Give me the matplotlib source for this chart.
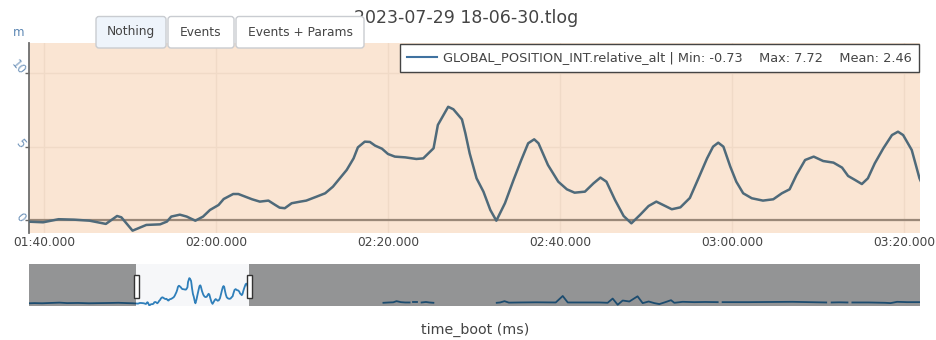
import matplotlib
matplotlib.use("Agg")
import matplotlib.pyplot as plt
import matplotlib.transforms as mtransforms
from matplotlib.patches import FancyBboxPatch, Rectangle

# ---------------- data ----------------
title = "2023-07-29 18-06-30.tlog"
series_name = "GLOBAL_POSITION_INT.relative_alt"
stat_min = "-0.73"
stat_max = "7.72"
stat_mean = "2.46"
y_unit = "m"
x_label = "time_boot (ms)"
buttons = ["Nothing", "Events", "Events + Params"]

# time in seconds since boot, altitude in m (first part of the log, incl. visible window)
time_s = [0.2, 5, 12, 20, 28, 35, 45, 55, 65, 75, 82, 90, 95,
          98.3, 99.9, 101.7, 103.5, 105.3, 107.2, 108.5, 109.0, 110.3, 111.9,
          113.5, 114.3, 114.8, 115.8, 116.6, 117.6, 118.5, 119.3, 120.3, 120.9,
          122.0, 122.6, 123.4, 124.2, 125.1, 126.1, 126.9, 127.4, 128.0, 128.8,
          129.8, 130.5, 131.7, 132.7, 133.6, 134.4, 135.2, 136.0, 136.5, 137.3,
          137.9, 138.5, 139.3, 140.0, 140.8, 142.0, 143.3, 144.1, 145.3, 145.8,
          147.0, 147.6, 148.6, 149.0, 149.5, 150.3, 151.1, 151.9, 152.6, 153.6,
          154.6, 155.5, 156.3, 157.0, 157.5, 158.6, 159.8, 160.8, 161.7, 162.9,
          163.9, 164.7, 165.4, 166.4, 167.4, 168.3, 169.3, 170.3, 171.2, 172.0,
          173.0, 174.0, 175.1, 176.1, 177.1, 177.8, 178.4, 179.0, 179.8, 180.5,
          181.3, 182.3, 183.6, 184.8, 185.8, 186.7, 187.5, 188.5, 189.5, 190.6,
          191.8, 192.8, 193.5, 194.3, 195.1, 195.8, 196.6, 197.6, 198.6, 199.3,
          199.9, 200.9, 201.8, 202.3]
alt_m = [-0.05, 0.0, -0.05, 0.05, 0.15, 0.0, 0.05, -0.05, 0.0, 0.05, 0.1, 0.0, -0.05,
         -0.12, -0.16, 0.05, 0.02, -0.05, -0.27, 0.27, 0.18, -0.73, -0.34,
         -0.30, -0.11, 0.23, 0.36, 0.23, -0.05, 0.23, 0.68, 1.02, 1.43,
         1.77, 1.77, 1.59, 1.41, 1.25, 1.32, 1.02, 0.84, 0.80, 1.14,
         1.25, 1.32, 1.59, 1.82, 2.27, 2.84, 3.41, 4.20, 4.95, 5.34,
         5.32, 5.07, 4.86, 4.50, 4.32, 4.27, 4.16, 4.20, 4.89, 6.48,
         7.72, 7.55, 6.86, 5.91, 4.54, 2.84, 1.93, 0.68, -0.05, 1.14,
         2.73, 4.09, 5.23, 5.50, 5.23, 3.75, 2.61, 2.09, 1.86, 1.93,
         2.50, 2.89, 2.61, 1.36, 0.27, -0.23, 0.34, 0.95, 1.25, 1.02,
         0.73, 0.86, 1.50, 2.84, 4.20, 5.00, 5.27, 5.00, 3.64, 2.61,
         1.82, 1.48, 1.32, 1.41, 1.82, 2.09, 3.07, 4.09, 4.32, 4.02,
         3.91, 3.57, 3.00, 2.73, 2.45, 2.84, 3.86, 4.89, 5.79, 6.02,
         5.79, 4.77, 2.84, 2.2]

# later parts of the log (separate segments, with gaps between them)
seg1_t = [325, 330, 334, 337, 341, 345, 349]
seg1_v = [0.1, 0.2, 0.25, 0.6, 0.3, 0.2, 0.2]
seg2_t = [352, 355.5]
seg2_v = [0.2, 0.2]
seg3_t = [360, 364, 367, 370.8]
seg3_v = [0.2, 0.35, 0.2, 0.1]
seg4_t = [428.9, 432, 436, 440, 450, 465, 483, 489.4, 494, 505, 523, 530.6,
          535.2, 539.8, 544.4, 550.5, 558, 562.7, 568.2, 573.4, 578, 583.5,
          588.7, 591.7, 599.4, 610, 620, 631.5]
seg4_v = [0.1, 0.2, 0.6, 0.15, 0.2, 0.25, 0.2, 2.2, 0.2, 0.2, 0.2, 0.1,
          1.4, -0.5, 0.8, 0.5, 2.1, 0.0, 0.5, 0.0, -0.3, 0.3,
          0.9, 0.1, 0.4, 0.3, 0.35, 0.3]
seg5_t = [636, 660, 680, 700, 715, 731]
seg5_v = [0.3, 0.3, 0.35, 0.4, 0.3, 0.2]
seg6_t = [736, 743, 750.5]
seg6_v = [0.2, 0.25, 0.2]
seg7_t = [755, 770, 785, 790, 796, 805, 817]
seg7_v = [0.2, 0.2, 0.1, 0.0, 0.4, 0.3, 0.3]
later_segments = [(seg1_t, seg1_v), (seg2_t, seg2_v), (seg3_t, seg3_v),
                  (seg4_t, seg4_v), (seg5_t, seg5_v), (seg6_t, seg6_v),
                  (seg7_t, seg7_v)]

x_ticks = [100, 120, 140, 160, 180, 200]
x_tick_labels = ["01:40.000", "02:00.000", "02:20.000", "02:40.000", "03:00.000", "03:20.000"]
y_ticks = [0, 5, 10]
y_tick_labels = ["0", "5", "10"]
view_range = (98.26, 201.86)
full_range = (0.0, 817.0)
y_range = (-0.89, 12.07)

# ---------------- figure ----------------
W, H = 936, 340
fig = plt.figure(figsize=(W / 100, H / 100), dpi=100)
fig.patch.set_facecolor("white")


def px_axes(x0, y0, x1, y1, **kw):
    return fig.add_axes([x0 / W, 1 - y1 / H, (x1 - x0) / W, (y1 - y0) / H], **kw)


BG = "#fae5d3"
GRID = "#f0dac7"
LINE = "#4f6a7a"
TXT = "#444444"

ax = px_axes(29, 43, 920, 233)
ax.set_facecolor(BG)
gap = " " * 4
ax.plot(time_s, alt_m, color=LINE, lw=1.8, zorder=3, solid_joinstyle="round",
        label=f"{series_name} | Min: {stat_min}{gap}Max: {stat_max}{gap}Mean: {stat_mean}")
ax.axhline(0, color="#9a8878", lw=1.6, zorder=2)
ax.set_xlim(*view_range)
ax.set_ylim(*y_range)
ax.set_xticks(x_ticks)
ax.set_xticklabels(x_tick_labels, fontsize=8.8, color=TXT)
ax.set_yticks(y_ticks)
ax.set_yticklabels(y_tick_labels, fontsize=8.5, color="#7195bb", rotation=-50,
                   rotation_mode="anchor", ha="right", va="center")
ax.tick_params(axis="x", length=0, pad=2.5)
ax.tick_params(axis="y", length=3, width=1, color="#666666", pad=1.5)
ax.grid(True, color=GRID, lw=1)
for s in ["top", "right", "bottom"]:
    ax.spines[s].set_visible(False)
ax.spines["left"].set_color("#6e6e6e")
ax.spines["left"].set_linewidth(1.3)

leg = ax.legend(loc="upper right", bbox_to_anchor=(1.0, 1.0), fontsize=9.3,
                frameon=True, fancybox=False, handlelength=2.3, handletextpad=0.45,
                borderpad=0.6, borderaxespad=0.05, labelcolor=TXT)
leg.get_frame().set_edgecolor("#444444")
leg.get_frame().set_linewidth(1.0)
leg.get_frame().set_facecolor("white")
leg.get_frame().set_alpha(1)
leg.get_lines()[0].set_color("#3f72a0")
leg.get_lines()[0].set_linewidth(1.5)

# ---------------- range slider / minimap ----------------
axm = px_axes(29, 264, 920, 306)
axm.set_facecolor("#f6f7f9")
MINI = "#2f7fba"
axm.plot(time_s, alt_m, color=MINI, lw=1.3, zorder=2)
for st, sv in later_segments:
    axm.plot(st, sv, color=MINI, lw=1.3, zorder=2)
axm.set_xlim(*full_range)
axm.set_ylim(*y_range)
axm.axvspan(full_range[0], view_range[0], color="black", alpha=0.4, lw=0, zorder=3)
axm.axvspan(view_range[1], full_range[1], color="black", alpha=0.4, lw=0, zorder=3)
axm.set_xticks([])
axm.set_yticks([])
for s in axm.spines.values():
    s.set_visible(False)
trans = mtransforms.blended_transform_factory(axm.transData, axm.transAxes)
hw = 5 * (full_range[1] - full_range[0]) / 891.0
for xv in view_range:
    axm.add_patch(Rectangle((xv - hw / 2, 0.2), hw, 0.55, transform=trans,
                            facecolor="white", edgecolor="#333333", lw=1.0,
                            zorder=5, clip_on=False))

# ---------------- overlay: title, buttons, labels ----------------
ov = fig.add_axes([0, 0, 1, 1], zorder=10)
ov.set_xlim(0, W)
ov.set_ylim(H, 0)
ov.axis("off")
ov.text(466, 18, title, ha="center", va="center", fontsize=12.5, color=TXT, zorder=1)
ov.text(19, 33, y_unit, ha="center", va="center", fontsize=8.5, color="#5b86b3")
ov.text(475, 330, x_label, ha="center", va="center", fontsize=10.3, color=TXT)

btn_boxes = [(96, 166), (168, 234), (236, 364)]
for i, (label, (bx0, bx1)) in enumerate(zip(buttons, btn_boxes)):
    fc = "#eef4fb" if i == 0 else "white"
    ov.add_patch(FancyBboxPatch((bx0, 16.5), bx1 - bx0, 31.5,
                                boxstyle="round,pad=0,rounding_size=3",
                                facecolor=fc, edgecolor="#c9ccd1", lw=1.0, zorder=5))
    ov.text((bx0 + bx1) / 2, 32, label, ha="center", va="center", fontsize=8.8,
            color=TXT, zorder=6)

fig.savefig("out.png", dpi=100, facecolor="white")
